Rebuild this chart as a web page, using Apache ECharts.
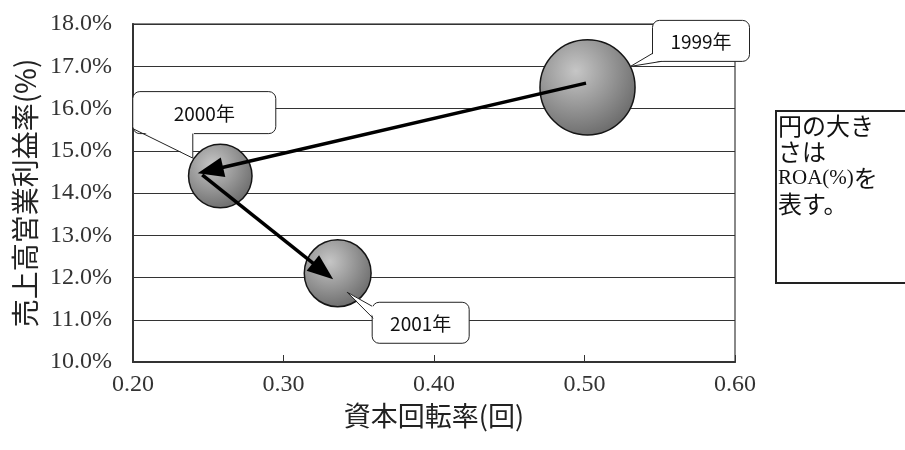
<!DOCTYPE html>
<html>
<head>
<meta charset="utf-8">
<script src="https://cdn.jsdelivr.net/npm/echarts@6/dist/echarts.min.js"></script>
<style>
  html, body { margin: 0; padding: 0; background: #fff; }
  #chart { width: 905px; height: 450px; }
</style>
</head>
<body>
<div id="chart"></div>
<script>
// Yearly figures: capital turnover (x), operating margin (y), ROA (bubble area)
const years = ['1999年', '2000年', '2001年'];
const turnover = [0.502, 0.258, 0.336];
const margin = [16.5, 14.4, 12.1];
const roa = [8.3, 3.7, 4.1];

// Axis ranges [min, max, step]
const xRange = [0.2, 0.6, 0.1];
const yRange = [10, 18, 1];

// Trend arrows between the years, in data units [turnover, margin]
const arrowFrom = [[0.501, 16.60], [0.246, 14.43]];
const arrowTo = [[0.243, 14.47], [0.333, 11.96]];

// Note box text, line by line
const noteLines = ['円の大き', 'さは', 'ROA(%)を', '表す。'];

// Callout geometry in pixels relative to each bubble centre
const CALLOUT = [
  { box: [65, -67, 97, 41], base: [[0, 33], [9, 41]], tip: [43, -21] },
  { box: [-87.5, -84.5, 143, 42], base: [[0, 37], [60, 42]], tip: [-27.5, -18] },
  { box: [34.5, 29, 97, 41], base: [[0, 4], [1, 16]], tip: [9.5, 19] }
];

const LATIN = '"Liberation Serif", "Noto Sans CJK JP", serif';
const CJK = '"Noto Sans CJK JP", sans-serif';

const bubbleData = turnover.map((t, i) => [t, margin[i], roa[i], i]);
const arrowData = arrowFrom.map((f, i) => [f[0], f[1], arrowTo[i][0], arrowTo[i][1]]);

function renderArrow(params, api) {
  const p1 = api.coord([api.value(0), api.value(1)]);
  const p2 = api.coord([api.value(2), api.value(3)]);
  const dx = p2[0] - p1[0], dy = p2[1] - p1[1];
  const len = Math.hypot(dx, dy);
  const ux = dx / len, uy = dy / len;
  const HL = 26, HW = 10;
  const bx = p2[0] - ux * HL, by = p2[1] - uy * HL;
  return {
    type: 'group',
    children: [
      { type: 'line', shape: { x1: p1[0], y1: p1[1], x2: bx + ux * 3, y2: by + uy * 3 },
        style: { stroke: '#000', lineWidth: 3.5 } },
      { type: 'polygon',
        shape: { points: [p2, [bx - uy * HW, by + ux * HW], [bx + uy * HW, by - ux * HW]] },
        style: { fill: '#000' } }
    ]
  };
}

function renderCallout(params, api) {
  const i = api.value(3);
  const c = api.coord([api.value(0), api.value(1)]);
  const L = CALLOUT[i];
  const bx = c[0] + L.box[0], by = c[1] + L.box[1], bw = L.box[2], bh = L.box[3];
  const cx = bx + bw / 2, cy = by + bh / 2;
  const tip = [c[0] + L.tip[0], c[1] + L.tip[1]];
  const base = L.base.map(p => [bx + p[0], by + p[1]]);
  const inner = base.map(p => {
    const vx = cx - p[0], vy = cy - p[1], d = Math.hypot(vx, vy);
    return [p[0] + vx / d * 2.5, p[1] + vy / d * 2.5];
  });
  return {
    type: 'group',
    children: [
      { type: 'rect', shape: { x: bx, y: by, width: bw, height: bh, r: 7 },
        style: { fill: '#fff', stroke: '#222', lineWidth: 1 } },
      { type: 'polygon', shape: { points: [inner[0], tip, inner[1]] },
        style: { fill: '#fff', stroke: null } },
      { type: 'polyline', shape: { points: [base[0], tip, base[1]] },
        style: { fill: null, stroke: '#222', lineWidth: 1 } },
      { type: 'text',
        style: { x: cx, y: cy + 1, text: years[i], align: 'center', verticalAlign: 'middle',
                 fontSize: 19, fontFamily: CJK, fill: '#111' } }
    ]
  };
}

const chart = echarts.init(document.getElementById('chart'), null, { renderer: 'canvas' });

chart.setOption({
  animation: false,
  backgroundColor: '#fff',
  grid: {
    left: 133, right: 170, top: 24, bottom: 88,
    show: true, borderColor: '#888', borderWidth: 2, backgroundColor: '#fff'
  },
  xAxis: {
    type: 'value',
    min: xRange[0], max: xRange[1], interval: xRange[2],
    name: '資本回転率(回)',
    nameLocation: 'middle', nameGap: 33,
    nameTextStyle: { fontFamily: CJK, fontSize: 27, color: '#222' },
    axisLine: { show: true, onZero: false, lineStyle: { color: '#333', width: 2 } },
    axisTick: { show: true, inside: true, length: 7, lineStyle: { color: '#333', width: 1 } },
    axisLabel: { margin: 11, fontFamily: LATIN, fontSize: 24, color: '#333',
                 formatter: v => v.toFixed(2) },
    splitLine: { show: false }
  },
  yAxis: {
    type: 'value',
    min: yRange[0], max: yRange[1], interval: yRange[2],
    name: '売上高営業利益率(%)',
    nameLocation: 'middle', nameRotate: 90, nameGap: 86,
    nameTextStyle: { fontFamily: CJK, fontSize: 28, color: '#222' },
    axisLine: { show: true, onZero: false, lineStyle: { color: '#333', width: 2 } },
    axisTick: { show: false },
    axisLabel: { margin: 21, fontFamily: LATIN, fontSize: 24, color: '#333',
                 formatter: v => v.toFixed(1) + '%' },
    splitLine: { show: true, lineStyle: { color: '#333', width: 1 } }
  },
  series: [
    {
      type: 'scatter',
      data: bubbleData,
      z: 2,
      symbol: 'circle',
      symbolSize: v => 33 * Math.sqrt(v[2]),
      itemStyle: {
        color: {
          type: 'radial', x: 0.38, y: 0.33, r: 0.7,
          colorStops: [
            { offset: 0, color: '#c6c6c6' },
            { offset: 1, color: '#6c6c6c' }
          ]
        },
        borderColor: '#151515',
        borderWidth: 1.5,
        opacity: 1
      },
      emphasis: { disabled: true }
    },
    {
      type: 'custom',
      coordinateSystem: 'cartesian2d',
      data: arrowData,
      encode: { x: [0, 2], y: [1, 3] },
      renderItem: renderArrow,
      clip: false,
      z: 3,
      silent: true
    },
    {
      type: 'custom',
      coordinateSystem: 'cartesian2d',
      data: bubbleData,
      encode: { x: 0, y: 1 },
      renderItem: renderCallout,
      clip: false,
      z: 4,
      silent: true
    }
  ],
  graphic: [
    {
      type: 'rect', left: 775, top: 110, z: 10,
      shape: { width: 150, height: 172 },
      style: { fill: '#fff', stroke: '#222', lineWidth: 2 }
    },
    {
      type: 'text', left: 778, top: 113, z: 11,
      style: {
        text: noteLines.map(s => s.replace('ROA(%)', '{lat|ROA(%)}')).join('\n'),
        fontFamily: CJK, fontSize: 24, lineHeight: 26, fill: '#111',
        rich: { lat: { fontFamily: LATIN, fontSize: 21, lineHeight: 26, fill: '#111' } }
      }
    }
  ]
});
</script>
</body>
</html>
